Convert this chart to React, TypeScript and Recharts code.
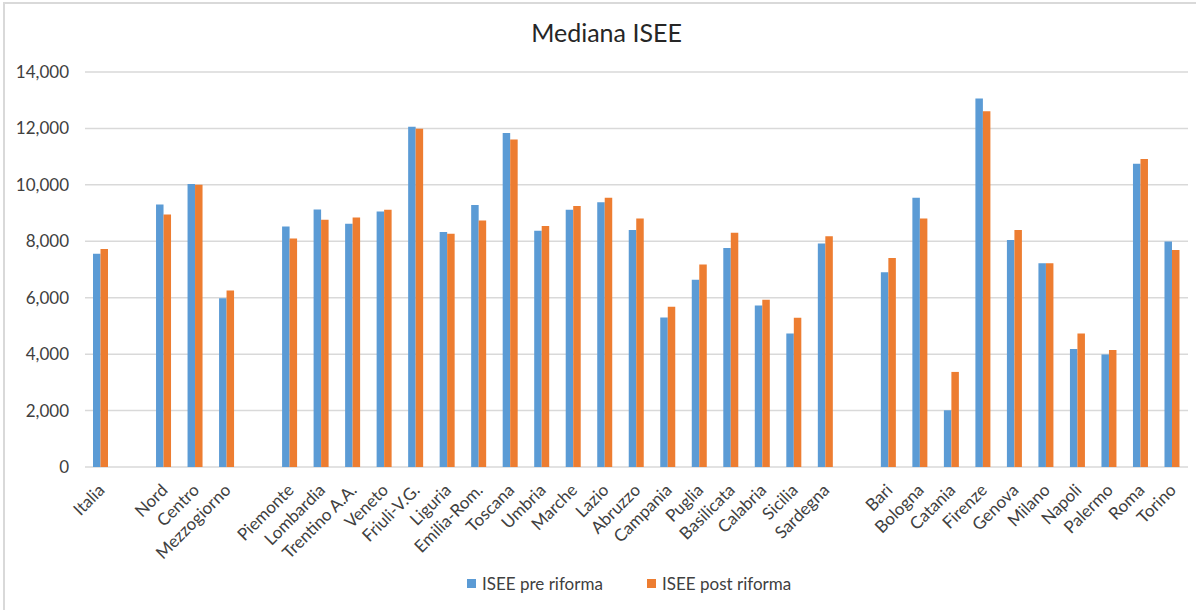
import React from "react";
import { BarChart, Bar, XAxis, YAxis, CartesianGrid, Legend } from "recharts";

// empty strings are the gaps between the groups (Italia / macro areas / regions / cities)
const categories = [
  "Italia", "", "Nord", "Centro", "Mezzogiorno", " ",
  "Piemonte", "Lombardia", "Trentino A.A.", "Veneto", "Friuli-V.G.", "Liguria",
  "Emilia-Rom.", "Toscana", "Umbria", "Marche", "Lazio", "Abruzzo", "Campania",
  "Puglia", "Basilicata", "Calabria", "Sicilia", "Sardegna", "  ",
  "Bari", "Bologna", "Catania", "Firenze", "Genova", "Milano", "Napoli",
  "Palermo", "Roma", "Torino",
];

const iseePre = [
  7560, null, 9300, 10030, 5980, null,
  8520, 9130, 8620, 9060, 12060, 8330,
  9290, 11840, 8370, 9120, 9380, 8400, 5300,
  6640, 7760, 5720, 4730, 7920, null,
  6900, 9540, 2010, 13060, 8050, 7220, 4180,
  3990, 10750, 7990,
];

const iseePost = [
  7730, null, 8950, 10000, 6260, null,
  8100, 8760, 8840, 9120, 11990, 8270,
  8740, 11610, 8540, 9250, 9540, 8810, 5680,
  7180, 8300, 5930, 5290, 8180, null,
  7410, 8810, 3370, 12610, 8400, 7220, 4730,
  4150, 10920, 7690,
];

const yTicks = [0, 2000, 4000, 6000, 8000, 10000, 12000, 14000];

const seriesNames = ["ISEE pre riforma", "ISEE post riforma"];
const BLUE = "#5B9BD5";
const ORANGE = "#ED7D31";
const FONT = "Lato, 'Open Sans', sans-serif";

const data = categories.map((name, i) => ({
  name,
  pre: iseePre[i],
  post: iseePost[i],
}));

const formatNumber = (v: number) => v.toLocaleString("en-US");

const AngledTick = (props: any) => {
  const { x, y, payload } = props;
  return (
    <text
      x={x}
      y={y}
      dy={15}
      dx={-8}
      textAnchor="end"
      transform={`rotate(-45, ${x}, ${y})`}
      fill="#404040"
      fontSize={17}
      fontFamily={FONT}
    >
      {payload.value}
    </text>
  );
};

const LegendContent = () => (
  <div
    style={{
      position: "relative",
      height: 24,
      fontFamily: FONT,
      fontSize: 17,
      color: "#404040",
    }}
  >
    <div style={{ position: "absolute", left: 467, top: 1, display: "flex", alignItems: "center" }}>
      <span style={{ width: 9, height: 9, background: BLUE, display: "inline-block", marginRight: 6 }} />
      {seriesNames[0]}
    </div>
    <div style={{ position: "absolute", left: 647, top: 1, display: "flex", alignItems: "center" }}>
      <span style={{ width: 9, height: 9, background: ORANGE, display: "inline-block", marginRight: 6 }} />
      {seriesNames[1]}
    </div>
  </div>
);

export default function App() {
  return (
    <div style={{ position: "absolute", left: 0, top: 0, width: 1196, height: 610, background: "#fff", overflow: "hidden" }}>
      {/* chart frame, only left and top edges fall inside the picture */}
      <div
        style={{
          position: "absolute",
          left: 3,
          top: 2,
          width: 1210,
          height: 630,
          border: "2px solid #d9d9d9",
          boxSizing: "border-box",
        }}
      />
      <div
        style={{
          position: "absolute",
          left: 0,
          top: 19,
          width: 1213,
          textAlign: "center",
          fontFamily: FONT,
          fontSize: 25,
          lineHeight: "26px",
          color: "#262626",
        }}
      >
        Mediana ISEE
      </div>
      <BarChart
        width={1196}
        height={610}
        data={data}
        margin={{ top: 72, right: 8, left: 0, bottom: 14 }}
        barGap={0}
        style={{ position: "absolute", left: 0, top: 0 }}
      >
        <CartesianGrid vertical={false} stroke="#d9d9d9" strokeWidth={1.5} />
        <XAxis
          dataKey="name"
          axisLine={false}
          tickLine={false}
          interval={0}
          height={105}
          tick={<AngledTick />}
        />
        <YAxis
          width={85}
          domain={[0, 14000]}
          ticks={yTicks}
          axisLine={false}
          tickLine={false}
          tickSize={0}
          tickMargin={16}
          tickFormatter={formatNumber}
          tick={{ fill: "#404040", fontSize: 17, fontFamily: FONT }}
        />
        <Legend verticalAlign="bottom" height={24} content={<LegendContent />} />
        <Bar dataKey="pre" name={seriesNames[0]} fill={BLUE} barSize={7.5} isAnimationActive={false} />
        <Bar dataKey="post" name={seriesNames[1]} fill={ORANGE} barSize={7.5} isAnimationActive={false} />
      </BarChart>
    </div>
  );
}
